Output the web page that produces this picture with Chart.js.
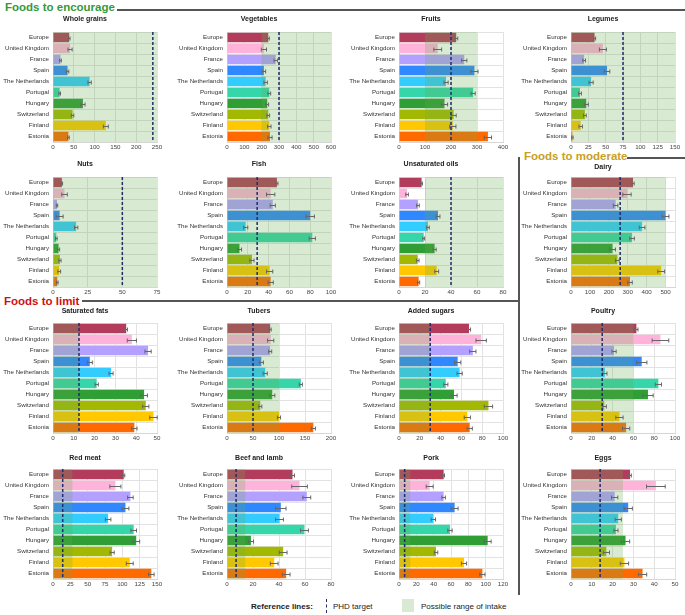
<!DOCTYPE html>
<html>
<head>
<meta charset="utf-8">
<script src="https://cdn.jsdelivr.net/npm/chart.js@4.4.0/dist/chart.umd.min.js"></script>
<style>
  body { margin: 0; background: #fff; font-family: Arial, "Liberation Sans", sans-serif; }
  #page { position: relative; width: 685px; height: 615px; overflow: hidden; }
  canvas { position: absolute; }
  .head { position: absolute; font-weight: bold; font-size: 11.5px; line-height: 11.5px; white-space: nowrap; }
  .rule { position: absolute; background: #555; }
  .leg { position: absolute; font-size: 8px; line-height: 10px; color: #222; white-space: nowrap; }
</style>
</head>
<body>
<div id="page">
  <div class="head" style="left:5px; top:2px; color:#34993a;">Foods to encourage</div>
  <div class="rule" style="left:117px; top:9px; width:568px; height:2px;"></div>
  <div class="head" style="left:524px; top:151px; color:#c9a022;">Foods to moderate</div>
  <div class="rule" style="left:627px; top:157px; width:58px; height:2px;"></div>
  <div class="rule" style="left:518px; top:157px; width:2px; height:438px;"></div>
  <div class="head" style="left:4px; top:296px; color:#cc1111;">Foods to limit</div>
  <div class="rule" style="left:82px; top:300px; width:437px; height:2px;"></div>

  <div class="leg" style="left:251px; top:602px; font-weight:bold;">Reference lines:</div>
  <div style="position:absolute; left:326px; top:599px; height:14px; border-left:1.5px dashed #1f2d6b;"></div>
  <div class="leg" style="left:333px; top:602px;">PHD target</div>
  <div style="position:absolute; left:402px; top:599px; width:12px; height:13px; background:#d9ead3;"></div>
  <div class="leg" style="left:421px; top:602px;">Possible range of intake</div>
</div>
<script>
// countries and colours
const countries = ['Europe', 'United Kingdom', 'France', 'Spain', 'The Netherlands',
                   'Portugal', 'Hungary', 'Switzerland', 'Finland', 'Estonia'];
const countryColors = ['#b33c5c', '#ffb3da', '#b3a0ff', '#2f88ff', '#33ccff',
                       '#35d6aa', '#2e9e35', '#a3b800', '#ffc800', '#ff6a00'];

const foods = ['Whole grains', 'Vegetables', 'Fruits', 'Legumes',
               'Nuts', 'Fish', 'Unsaturated oils', 'Dairy',
               'Saturated fats', 'Tubers', 'Added sugars', 'Poultry',
               'Red meat', 'Beef and lamb', 'Pork', 'Eggs'];

// intake values (g/day) and error half-widths, one pair per food
const wholeGrains = [39, 41, 18, 35, 88, 16, 72, 47, 127, 37];
const wholeGrainsErr = [2, 5, 2, 3, 4, 2, 5, 3, 6, 2];
const vegetables = [238, 213, 281, 213, 223, 244, 232, 238, 244, 248];
const vegetablesErr = [6, 15, 10, 10, 10, 8, 8, 8, 10, 12];
const fruits = [220, 149, 251, 290, 181, 285, 175, 210, 207, 342];
const fruitsErr = [6, 15, 10, 14, 8, 8, 12, 10, 12, 14];
const legumes = [34, 46, 19, 52, 29, 13, 22, 20, 14, 2];
const legumesErr = [1.5, 5, 2, 4, 3, 2, 3, 2, 2.5, 1];
const nuts = [6.4, 8.3, 2.9, 4.8, 16.7, 2.4, 4, 5, 4.5, 3.1];
const nutsErr = [0.5, 2, 0.5, 2.5, 1.2, 0.6, 0.8, 0.8, 1, 0.6];
const fish = [48, 42, 44, 80, 18, 82, 12, 24, 41, 42];
const fishErr = [1, 4, 2.5, 4, 2, 3, 2, 2, 3, 2.5];
const unsatOils = [17.4, 6.2, 14.6, 30, 22.3, 19, 27.4, 14.4, 29, 15.1];
const unsatOilsErr = [0.6, 1, 1, 1.5, 1, 0.7, 1.2, 1, 1.5, 0.8];
const dairy = [328, 296, 236, 500, 376, 323, 220, 245, 477, 312];
const dairyErr = [6, 22, 12, 18, 15, 12, 15, 10, 18, 12];
const satFats = [35.2, 37.9, 45.7, 17.7, 27.9, 21, 43.8, 44.6, 48.3, 39.1];
const satFatsErr = [0.6, 2.2, 1.5, 1.2, 1, 0.8, 1.6, 1.5, 1.8, 1.3];
const tubers = [83, 84, 83, 66, 73.5, 142, 87, 64, 100, 166];
const tubersErr = [2, 6, 3, 4, 4, 3, 5, 3, 3, 4];
const addedSugars = [67.3, 79, 71, 56.4, 58.3, 45, 52.9, 86, 65.7, 68];
const addedSugarsErr = [1.5, 5, 3, 3, 2.5, 2, 3, 4, 3, 2.5];
const poultry = [62.9, 86, 41.4, 68, 32.6, 84, 74, 32, 46.6, 53];
const poultryErr = [1.5, 8, 2, 5, 2, 3, 5, 2, 3.5, 3.5];
const redMeat = [102, 90, 111.6, 104.5, 79.5, 116.4, 120, 85.3, 110.7, 141.8];
const redMeatErr = [1.5, 8, 4, 5, 4, 4, 5, 3, 5, 4];
const beefLamb = [50.4, 55.8, 61.4, 41.4, 40.4, 59.6, 18.4, 43.2, 36.3, 45.5];
const beefLambErr = [1.5, 6, 3, 4, 3, 3, 2, 3, 3, 3];
const pork = [51.5, 35.4, 51.5, 64.2, 39.6, 58.8, 102.3, 42.7, 75, 96.2];
const porkErr = [1, 4, 2, 4, 2.5, 2.5, 4, 2, 3, 3];
const eggs = [28.4, 40.8, 21, 27.5, 22.7, 21.6, 26.2, 17, 25.7, 34.4];
const eggsErr = [0.6, 4.5, 1.5, 2, 1.5, 1, 2, 1.5, 2, 2];

const intakes = [wholeGrains, vegetables, fruits, legumes, nuts, fish, unsatOils, dairy,
                 satFats, tubers, addedSugars, poultry, redMeat, beefLamb, pork, eggs];
const intakeErrs = [wholeGrainsErr, vegetablesErr, fruitsErr, legumesErr, nutsErr, fishErr,
                    unsatOilsErr, dairyErr, satFatsErr, tubersErr, addedSugarsErr, poultryErr,
                    redMeatErr, beefLambErr, porkErr, eggsErr];

// reference values
const phdTargets = [240, 300, 200, 75, 50, 29, 40, 260, 12.5, 50, 30, 30, 14, 7, 6.5, 14];
const rangeLow = [0, 200, 100, 0, 0, 0, 20, 0, 0, 0, 0, 0, 0, 0, 0, 0];
const rangeHigh = [250, 600, 300, 150, 75, 100, 80, 500, 12.5, 100, 30, 60, 28, 14, 13, 25];

// x axis ticks
const axisMax = [250, 600, 400, 150, 75, 100, 80, 550, 50, 200, 100, 100, 150, 80, 120, 50];
const axisStep = [50, 100, 100, 25, 25, 20, 20, 100, 10, 50, 20, 20, 25, 20, 20, 10];

// page layout (4x4 grid of small charts)
const colPlotLeft = [53, 227, 399, 571];
const rowPlotTop = [32, 177, 323, 469];
const rowTitleY = [19, 164, 311, 458];
const PLOT_W = 104, PLOT_H = 110, LABEL_W = 52, AXIS_H = 14, RIGHT_PAD = 12;
const FONT = 'Arial, "Liberation Sans", sans-serif';

const overlayColor = 'rgba(103, 171, 79, 0.25)';

const refPlugin = {
    id: 'refLines',
    afterDatasetsDraw(chart) {
        const i = chart.options.plugins.refLines.food;
        const ctx = chart.ctx;
        const xs = chart.scales.x, ys = chart.scales.y;
        const area = chart.chartArea;

        ctx.save();
        // possible range of intake, drawn over the bars
        const x0 = xs.getPixelForValue(rangeLow[i]);
        const x1 = xs.getPixelForValue(Math.min(rangeHigh[i], axisMax[i]));
        ctx.fillStyle = overlayColor;
        ctx.fillRect(x0, area.top, x1 - x0, area.bottom - area.top);

        // error bars
        ctx.strokeStyle = '#666';
        ctx.lineWidth = 1;
        intakes[i].forEach((v, k) => {
            const e = intakeErrs[i][k];
            const y = Math.round(ys.getPixelForValue(k)) + 0.5;
            const a = xs.getPixelForValue(v - e), b = xs.getPixelForValue(v + e);
            ctx.beginPath();
            ctx.moveTo(a, y); ctx.lineTo(b, y);
            ctx.moveTo(a, y - 2); ctx.lineTo(a, y + 2);
            ctx.moveTo(b, y - 2); ctx.lineTo(b, y + 2);
            ctx.stroke();
        });

        // PHD target
        const tx = xs.getPixelForValue(phdTargets[i]);
        ctx.strokeStyle = '#1f2d6b';
        ctx.lineWidth = 1.5;
        ctx.setLineDash([3, 2]);
        ctx.beginPath();
        ctx.moveTo(tx, area.top);
        ctx.lineTo(tx, area.bottom);
        ctx.stroke();
        ctx.restore();
    }
};

const page = document.getElementById('page');

foods.forEach((food, i) => {
    const col = i % 4, row = Math.floor(i / 4);
    const titleY = rowTitleY[row] + (food === 'Dairy' ? 3 : 0);
    const canvasTop = Math.round(titleY - 6);
    const titleH = rowPlotTop[row] - canvasTop;

    const canvas = document.createElement('canvas');
    canvas.width = LABEL_W + PLOT_W + RIGHT_PAD;
    canvas.height = titleH + PLOT_H + AXIS_H;
    canvas.style.left = (colPlotLeft[col] - LABEL_W) + 'px';
    canvas.style.top = canvasTop + 'px';
    page.appendChild(canvas);

    new Chart(canvas.getContext('2d'), {
        type: 'bar',
        data: {
            labels: countries,
            datasets: [{
                data: intakes[i],
                backgroundColor: countryColors,
                borderWidth: 0,
                barPercentage: 0.86,
                categoryPercentage: 1
            }]
        },
        options: {
            indexAxis: 'y',
            responsive: false,
            animation: false,
            devicePixelRatio: 1,
            layout: { padding: 0 },
            scales: {
                x: {
                    min: 0,
                    max: axisMax[i],
                    ticks: {
                        stepSize: axisStep[i],
                        padding: 2,
                        color: '#444',
                        font: { family: FONT, size: 6.2 },
                        maxRotation: 0,
                        autoSkip: false,
                        callback: v => (v % axisStep[i] === 0 ? v : '')
                    },
                    grid: { color: '#e2e2e2', drawTicks: false },
                    border: { display: true, color: '#d6d6d6' },
                    afterBuildTicks(scale) {
                        // one tick per step, plus the axis end if it falls between steps
                        const t = [];
                        for (let v = 0; v <= axisMax[i]; v += axisStep[i]) t.push({ value: v });
                        if (t[t.length - 1].value < axisMax[i]) t.push({ value: axisMax[i] });
                        scale.ticks = t;
                    },
                    afterFit(scale) {
                        scale.height = AXIS_H;
                        scale.paddingLeft = 0;
                        scale.paddingRight = RIGHT_PAD;
                    }
                },
                y: {
                    ticks: {
                        padding: 4,
                        color: '#333',
                        font: { family: FONT, size: 6.2 },
                        autoSkip: false
                    },
                    grid: { color: '#e2e2e2', drawTicks: false, offset: true },
                    border: { display: true, color: '#d6d6d6' },
                    afterFit(scale) {
                        scale.width = LABEL_W;
                        scale.paddingTop = 0;
                        scale.paddingBottom = 0;
                    }
                }
            },
            plugins: {
                legend: { display: false },
                tooltip: { enabled: false },
                title: {
                    display: true,
                    text: food,
                    color: '#222',
                    font: { family: FONT, size: 7, weight: 'bold', lineHeight: '10px' },
                    padding: { top: 1, bottom: titleH - 11 }
                },
                refLines: { food: i }
            }
        },
        plugins: [refPlugin]
    });
});
</script>
</body>
</html>
